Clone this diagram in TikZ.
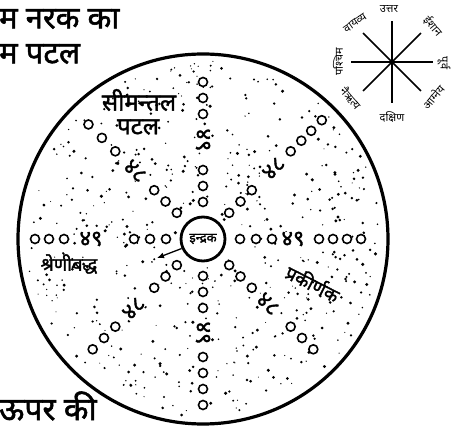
\documentclass[tikz,border=0pt]{standalone}
\usepackage{fontspec}
\newfontfamily\dev[Script=Devanagari]{Noto Sans}
\newfontfamily\devb[Script=Devanagari, FakeBold=1.6]{Noto Sans}
\usetikzlibrary{arrows.meta,calc}

\begin{document}
\begin{tikzpicture}[
    x=1pt, y=1pt,
    every node/.style={font=\dev, inner sep=1pt},
    heading/.style={font=\devb\fontsize{31}{34}\selectfont, anchor=west, inner sep=0pt},
    ring/.style={draw, fill=white, line width=1.6pt},
    raylabel/.style={font=\devb\fontsize{22}{24}\selectfont, inner sep=0pt},
    dirlabel/.style={font=\dev\fontsize{11}{13}\selectfont, inner sep=0pt},
    tag/.style={font=\devb\fontsize{18.5}{22}\selectfont, inner sep=0pt}
]
\useasboundingbox (0,0) rectangle (455,428);

% headings
\node[heading] (title1) at (-1,409) {म नरक का};
\node[heading] (title2) at (-1,374) {म पटल};
\node[heading, font=\devb\fontsize{32}{35}\selectfont] (below) at (-1,22) {ऊपर की};

% the patala
\coordinate (C) at (203,189);
\draw[line width=3.2pt] (C) circle (185);

% prakirnak dots
\pgfmathsetseed{17}
\foreach \i in {1,...,560}{
    \pgfmathsetmacro{\drad}{178*sqrt(0.025+0.975*rnd)}
    \pgfmathsetmacro{\dang}{360*rnd}
    \pgfmathsetmacro{\dsz}{0.5+1.2*rnd}
    \fill[shift={(C)}] (\dang:\drad) circle (\dsz);
}

% shrenibaddha rays
\foreach \a/\lab/\rot/\lr/\outer in {
    0/४९/0/90/{116,130,144,158},
    45/४८/45/100/{124,139,153,168},
    90/४९/-90/99/{125,141,157},
    135/४८/-45/96/{124,143,162},
    180/४९/0/112/{139,154,168},
    225/४८/45/98/{124,140,156},
    270/४९/-90/94/{118,134,150,166},
    315/४८/-45/92/{124,140,156}}{
    \foreach \r in {37,53,69}
        \draw[ring, shift={(C)}] (\a:\r) circle (4.5);
    \foreach \r in \outer
        \draw[ring, shift={(C)}] (\a:\r) circle (4.5);
    \node[raylabel, rotate=\rot, fill=white] (lab\a) at ($(C)+(\a:\lr)$) {\lab};
}

% indraka
\node[circle, draw, fill=white, line width=2.8pt, minimum size=44pt, inner sep=0pt,
      font=\devb\fontsize{13}{15}\selectfont] (indra) at (C) {इन्द्रक};

\node[tag, font=\devb\fontsize{24}{27}\selectfont] (simanta) at (139,328) {सीमन्तल};
\node[tag, font=\devb\fontsize{24}{27}\selectfont] (patal) at (138,301) {पटल};
\node[tag] (shreni) at (69,164) {श्रेणीबद्ध};
\node[tag, rotate=-27] (prakirn) at (313,145) {प्रकीर्णक};
\coordinate (shrenitip) at (157,170);
\draw[line width=1.3pt, -{Latex[length=7pt,width=6pt]}] (indra.204) -- (shrenitip);

% compass of directions
\coordinate (cmp) at (392,366);
\foreach \a in {0,45,...,315}
    \draw[line width=1.6pt] (cmp) -- ++(\a:41);
\node[dirlabel] (north) at (389,419) {उत्तर};
\node[dirlabel, rotate=-50] (ne) at (433,402) {ईशान};
\node[dirlabel, rotate=-90] (east) at (444,365) {पूर्व};
\node[dirlabel, rotate=50] (se) at (433,331) {आग्नेय};
\node[dirlabel] (south) at (392,311) {दक्षिण};
\node[dirlabel, rotate=-50] (sw) at (351,330) {नैऋत्य};
\node[dirlabel, rotate=90] (west) at (338,366) {पश्चिम};
\node[dirlabel, rotate=35] (nw) at (355,405) {वायव्य};
\end{tikzpicture}
\end{document}
